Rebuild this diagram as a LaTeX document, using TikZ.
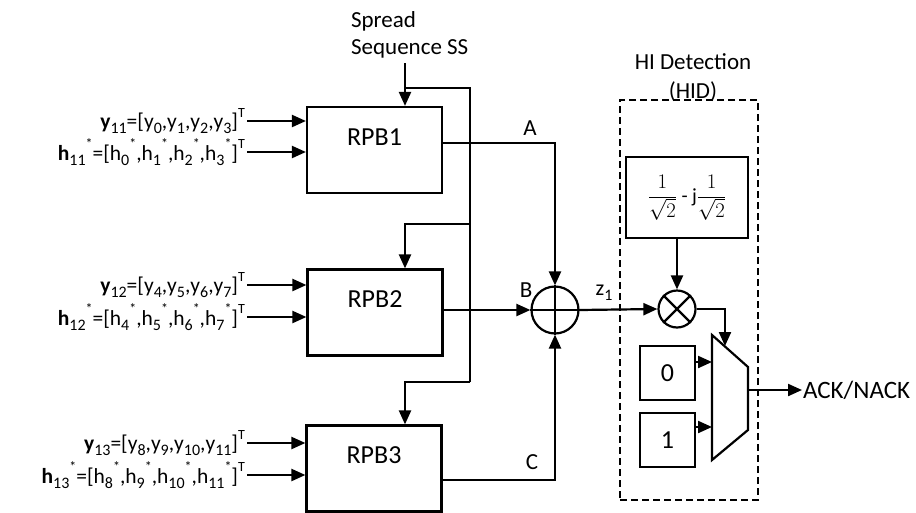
\documentclass[tikz,border=0pt]{standalone}
\usepackage{fontspec}
\setmainfont{Carlito}
\usetikzlibrary{arrows.meta}
\newcommand{\fs}[1]{\fontsize{#1}{#1}\selectfont}
\newcommand{\lo}[1]{\raisebox{-0.22em}{\fontsize{16}{16}\selectfont#1}}
\newcommand{\hi}[1]{\raisebox{0.55em}{\fontsize{14}{14}\selectfont#1}}
\tikzset{
  blk/.style={draw, minimum width=135pt, minimum height=86pt, inner sep=0pt},
  sqbox/.style={draw, minimum width=55pt, minimum height=54pt, inner sep=0pt, font=\fs{26}},
  lbl/.style={font=\fs{23}, inner sep=1pt},
  inlbl/.style={font=\fs{21.5}, anchor=east, inner sep=1pt},
}
\begin{document}
\begin{tikzpicture}[x=1pt, y=-1pt, line width=2.2pt, >={Triangle[length=14pt,width=12pt]}]
  \useasboundingbox (0,0) rectangle (916,512);
  % processing blocks
  \node[blk, label={[font=\fs{26}, yshift=13pt]center:RPB1}] (rpb1) at (374.5,150) {};
  \node[blk, label={[font=\fs{26}, yshift=13pt]center:RPB2}] (rpb2) at (375,312.5) {};
  \node[blk, label={[font=\fs{26}, yshift=13pt]center:RPB3}] (rpb3) at (374,468.5) {};
  % inputs
  \node[inlbl] (y11) at (247,121) {\textbf{y}\lo{11}=[y\lo{0},y\lo{1},y\lo{2},y\lo{3}]\hi{T}};
  \node[inlbl] (h11) at (247,152) {\textbf{h}\lo{11}\hi{*}=[h\lo{0}\hi{*},h\lo{1}\hi{*},h\lo{2}\hi{*},h\lo{3}\hi{*}]\hi{T}};
  \node[inlbl] (y12) at (247,285) {\textbf{y}\lo{12}=[y\lo{4},y\lo{5},y\lo{6},y\lo{7}]\hi{T}};
  \node[inlbl] (h12) at (247,317) {\textbf{h}\lo{12}\hi{*}=[h\lo{4}\hi{*},h\lo{5}\hi{*},h\lo{6}\hi{*},h\lo{7}\hi{*}]\hi{T}};
  \node[inlbl] (y13) at (247,443) {\textbf{y}\lo{13}=[y\lo{8},y\lo{9},y\lo{10},y\lo{11}]\hi{T}};
  \node[inlbl] (h13) at (247,475) {\textbf{h}\lo{13}\hi{*}=[h\lo{8}\hi{*},h\lo{9}\hi{*},h\lo{10}\hi{*},h\lo{11}\hi{*}]\hi{T}};
  \foreach \n/\b in {y11/rpb1, h11/rpb1, y12/rpb2, h12/rpb2, y13/rpb3, h13/rpb3}
    \draw[->] (\n.east) -- (\n.east -| \b.west);
  % spread sequence
  \node[font=\fontsize{23}{27}\selectfont, align=left, anchor=north west, inner sep=0pt] (ss) at (350,10) {Spread\\Sequence SS};
  \coordinate (ssend) at (405,63);
  \coordinate (br1) at (405,88);
  \coordinate (br2) at (470,224);
  \coordinate (br3) at (470,382);
  \draw[->] (ssend) -- (ssend |- rpb1.north);
  \draw (br1) -| (br3);
  \draw[->] (br2) -| (rpb2.north -| br1);
  \draw[->] (br3) -| (rpb3.north -| br1);
  % adder
  \node[draw, circle, minimum size=47pt, inner sep=0pt] (add) at (555,310) {};
  \draw (add.north) -- (add.south);
  \draw (add.west) -- (add.east);
  \draw[->] ([yshift=7pt]rpb1.east) -| (add.north);
  \draw[->] (rpb2.east |- add.west) -- (add.west);
  \draw[->] ([yshift=-11.5pt]rpb3.east) -| (add.south);
  \node[lbl] (la) at (530,128) {A};
  \node[lbl] (lb) at (526,290) {B};
  \node[lbl] (lc) at (532,462) {C};
  \node[font=\fs{22}, inner sep=1pt] (lz) at (604,293) {z\lo{1}};
  % HI detection
  \node[draw, dashed, dash pattern=on 7pt off 4pt, minimum width=138pt, minimum height=400pt, inner sep=0pt] (hid) at (689,300) {};
  \node[font=\fontsize{23}{29}\selectfont, align=center, inner sep=0pt] (hidt) at (693,78) {HI Detection\\(HID)};
  \node[draw, minimum width=122pt, minimum height=81pt, inner sep=0pt, font=\fs{20}] (cst) at (687,197.5) {$\displaystyle\frac{1}{\sqrt{2}}$ - j$\displaystyle\frac{1}{\sqrt{2}}$};
  \node[draw, circle, minimum size=37pt, inner sep=0pt] (mul) at (677,309) {};
  \draw (mul.north west) -- (mul.south east);
  \draw (mul.north east) -- (mul.south west);
  \draw[->] (add.east) -- (mul.west);
  \draw[->] (cst.south -| mul) -- (mul.north);
  % multiplexer
  \draw (712,335) -- (748,367) -- (748,430) -- (712,460) -- cycle;
  \coordinate (muxsel) at (725,346);
  \coordinate (muxin0) at (712,362);
  \coordinate (muxin1) at (712,427);
  \coordinate (muxout) at (748,390);
  \node[sqbox] (zero) at (667.5,373) {0};
  \node[sqbox] (one) at (667.5,440) {1};
  \draw[->] (mul.east) -| (muxsel);
  \draw[->] (zero.east |- muxin0) -- (muxin0);
  \draw[->] (one.east |- muxin1) -- (muxin1);
  \node[font=\fs{25}, anchor=west, inner sep=0pt] (ack) at (802,390) {ACK/NACK};
  \draw[->] (muxout) -- (ack.west);
\end{tikzpicture}
\end{document}
